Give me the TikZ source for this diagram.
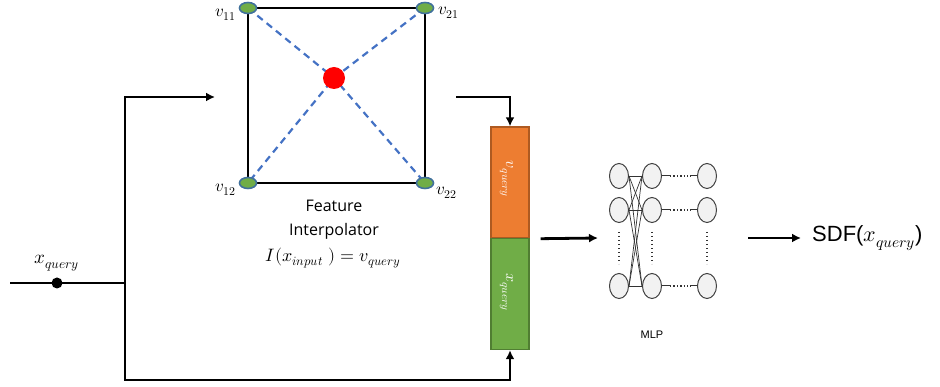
\documentclass[tikz,border=0pt]{standalone}
\usepackage{fontspec}
\usepackage{unicode-math}
\setmathfont{Latin Modern Math}
\setsansfont{Liberation Sans}
\newfontfamily\boxfont{Open Sans}
\usetikzlibrary{
    positioning,      % Relative positioning
    arrows.meta,      % Modern arrow tips
    calc,             % Coordinate calculations
    shapes.geometric, % Ellipses
    backgrounds       % Background layers
}

\definecolor{gridgreen}{HTML}{70AD47}
\definecolor{gridblue}{HTML}{4472C4}
\definecolor{gridrim}{HTML}{41719C}
\definecolor{featorange}{HTML}{ED7D31}
\definecolor{featorangerim}{HTML}{AE5A21}
\definecolor{featgreenrim}{HTML}{507E32}
\definecolor{neurongray}{HTML}{F2F2F2}

\tikzset{
    wire/.style={line width=2.8pt, black},
    flow/.style={wire, -{Latex[length=9pt,width=9pt]}},
    vertex/.style={ellipse, draw=gridrim, line width=1.6pt, fill=gridgreen,
        minimum width=17pt, minimum height=11pt, inner sep=0pt},
    vlabel/.style={font=\fontsize{17}{17}\selectfont},
    interp/.style={gridblue, line width=2.2pt, dash pattern=on 7pt off 5pt},
    neuron/.style={ellipse, draw=black!75, line width=1pt, fill=neurongray,
        minimum width=19pt, minimum height=25pt, inner sep=0pt},
    slot/.style={rectangle, line width=1.4pt, minimum width=38pt, minimum height=111pt}
}

\begin{document}
\begin{tikzpicture}[x=1pt,y=-1pt]
    \useasboundingbox (0,0) rectangle (940,387);

    % grid cell of the interpolator
    \node[vertex] (v11) at (248,8) {};
    \node[vertex] (v21) at (425,8) {};
    \node[vertex] (v12) at (248,183) {};
    \node[vertex] (v22) at (425,183) {};
    \node[circle, fill=red, minimum size=22pt, inner sep=0pt] (p) at (334,78) {};
    \begin{pgfonlayer}{background}
        \draw[line width=2.8pt] (v11.center) -- (v21.center) -- (v22.center) -- (v12.center) -- cycle;
        \draw[interp] (v11.center) -- (p.center) -- (v22.center);
        \draw[interp] (v21.center) -- (p.center) -- (v12.center);
    \end{pgfonlayer}
    \node[vlabel] at (226,15) {$v_{11}$};
    \node[vlabel] at (449,13) {$v_{21}$};
    \node[vlabel] at (226,190) {$v_{12}$};
    \node[vlabel] at (447,193) {$v_{22}$};

    \node[align=center, font=\boxfont\fontsize{16}{24}\selectfont] (interp) at (334,220)
        {Feature\\Interpolator};
    \node[font=\fontsize{18}{18}\selectfont] (eq) at (333,258)
        {$I(x_{input}\ )=v_{query}$};

    % query input and skip connection
    \coordinate (xin) at (10,283);
    \node[circle, fill=black, minimum size=11pt, inner sep=0pt] (xq) at (57,283) {};
    \node[font=\fontsize{19}{19}\selectfont] at (57,263) {$x_{query}$};
    \coordinate (split) at (125,283);
    \coordinate (topturn) at (125,97);
    \coordinate (botturn) at (125,380);
    \coordinate (into) at (215,97);
    \coordinate (outof) at (456,97);

    % concatenated feature vector
    \node[slot, draw=featorangerim, fill=featorange] (vq) at (510,182.5) {};
    \node[slot, draw=featgreenrim, fill=gridgreen] (gq) at (510,294) {};
    \node[rotate=-90, white, font=\fontsize{16}{16}\selectfont] at (507,179) {$v_{query}$};
    \node[rotate=-90, white, font=\fontsize{16}{16}\selectfont] at (507,292) {$x_{query}$};

    \draw[wire] (xin) -- (split);
    \draw[flow] (botturn) -- (topturn) -- (into);
    \draw[flow] (split) -- (botturn) -| (gq.south);
    \draw[flow] (outof) -| (vq.north);

    % MLP
    \foreach \c/\x in {1/619,2/652,3/707}
        \foreach \r/\y in {1/176,2/210,3/286}
            \node[neuron] (m\c\r) at (\x,\y) {};
    \foreach \a in {1,2,3}
        \foreach \b in {1,2,3}
            \draw[line width=0.7pt, black!80] (m1\a.east) -- (m2\b.west);
    \foreach \r in {1,2,3} {
        \draw[line width=1pt, black!80] (m2\r.east) -- ++(8,0);
        \draw[line width=1pt, black!80] (m3\r.west) -- ++(-6,0);
        \draw[line width=1.4pt, black!80, dash pattern=on 1.4pt off 2pt] ($(m2\r.east)+(8,0)$) -- ($(m3\r.west)+(-6,0)$);
    }
    \foreach \c in {1,2,3}
        \draw[line width=1.4pt, black!80, dash pattern=on 1.4pt off 2.6pt] ($(m\c2)+(0,22)$) -- ($(m\c3)+(0,-22)$);
    \node[font=\sffamily\fontsize{11}{11}\selectfont] (mlp) at (652,335) {MLP};

    \coordinate (mlpin) at (598,238);
    \draw[flow] ([xshift=11pt]vq.south east) -- (mlpin);

    % output
    \node[font=\sffamily\fontsize{22}{22}\selectfont, anchor=west, inner sep=2pt] (sdf) at (810,238) {SDF($x_{query}$)};
    \coordinate (sdfin) at (748,238);
    \coordinate (sdfend) at (801,238);
    \draw[flow] (sdfin) -- (sdfend);
\end{tikzpicture}
\end{document}
